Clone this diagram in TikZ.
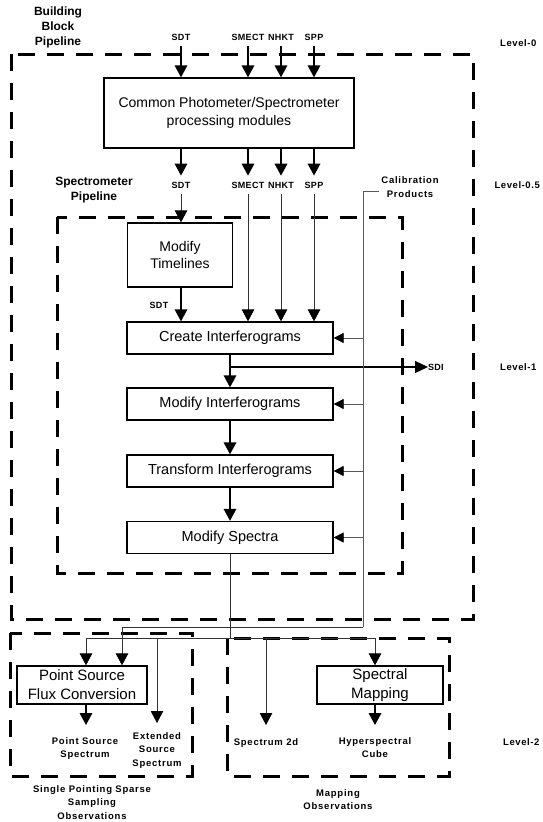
\documentclass[tikz,border=0pt]{standalone}
\usepackage{fontspec}
\setmainfont{Liberation Sans}
\usetikzlibrary{arrows.meta}
\begin{document}
\begin{tikzpicture}[x=1pt,y=-1pt,
  dbox/.style={draw, line width=3pt, dash pattern=on 17pt off 12pt},
  proc/.style={draw, line width=1.3pt, inner sep=0pt, align=center, font=\fontsize{14}{17.5}\selectfont},
  proc1/.style={proc, font=\fontsize{14.5}{17.5}\selectfont, minimum width=206pt, minimum height=32pt},
  io/.style={inner xsep=1pt, inner ysep=6pt, font=\bfseries\fontsize{9}{10.8}\selectfont\addfontfeature{LetterSpace=3}},
  lab/.style={inner sep=0pt, align=center, font=\bfseries\fontsize{9.5}{13.5}\selectfont\addfontfeature{LetterSpace=8}},
  lvl/.style={inner sep=0pt, font=\bfseries\fontsize{9.5}{11}\selectfont\addfontfeature{LetterSpace=6}},
  ttl/.style={inner sep=0pt, align=center, font=\bfseries\fontsize{12}{15}\selectfont},
  arr/.style={line width=1.8pt, -{Triangle[width=12.5pt,length=12pt]}},
  thinarr/.style={line width=1pt, draw=black!80, -{Triangle[width=12.5pt,length=12pt,color=black]}},
  thinline/.style={line width=0.9pt, draw=black!80},
  calline/.style={line width=0.8pt, draw=black!65},
  calarr/.style={calline, -{Triangle[width=10pt,length=10pt,color=black]}},
]
\useasboundingbox (0,0) rectangle (542,822);

% dashed containers
\draw[dbox] (11,54) rectangle (473,619);
\draw[dbox] (57,217) rectangle (402,573);
\draw[dbox] (10,633) rectangle (192,776);
\draw[dbox] (227,638) rectangle (449,776);

% titles
\node[ttl] (bbp) at (58,27) {Building\\Block\\Pipeline};
\node[ttl] (spp) at (94,190) {Spectrometer\\Pipeline};
\node[lvl, anchor=west] (l0) at (500,43) {Level-0};
\node[lvl, anchor=east] (l05) at (540,185) {Level-0.5};
\node[lvl, anchor=west] (l1) at (500,367) {Level-1};
\node[lvl, anchor=west] (l2) at (503,742) {Level-2};

% common box
\node[proc, minimum width=250pt, minimum height=70pt] (common) at (229,113) {Common Photometer/Spectrometer\\processing modules};

\node[io] (sdt0) at (181,37) {SDT};
\node[io] (smect0) at (248,37) {SMECT};
\node[io] (nhkt0) at (281,37) {NHKT};
\node[io] (spp0) at (314,37) {SPP};
\draw[arr] (sdt0) -- (sdt0 |- common.north);
\draw[arr] (smect0) -- (smect0 |- common.north);
\draw[arr] (nhkt0) -- (nhkt0 |- common.north);
\draw[arr] (spp0) -- (spp0 |- common.north);

\node[io] (sdt1) at (181,185) {SDT};
\node[io] (smect1) at (248,185) {SMECT};
\node[io] (nhkt1) at (281,185) {NHKT};
\node[io] (spp1) at (314,185) {SPP};
\draw[arr] (sdt0 |- common.south) -- (sdt1);
\draw[arr] (smect0 |- common.south) -- (smect1);
\draw[arr] (nhkt0 |- common.south) -- (nhkt1);
\draw[arr] (spp0 |- common.south) -- (spp1);

% spectrometer pipeline
\node[proc, minimum width=105pt, minimum height=64pt] (mt) at (180,255) {Modify\\Timelines};
\node[proc1] (create) at (230,338) {Create Interferograms};
\node[proc1] (mi) at (230,404) {Modify Interferograms};
\node[proc1] (ti) at (230,471) {Transform Interferograms};
\node[proc1] (ms) at (230,537.5) {Modify Spectra};

\draw[thinarr] (sdt1) -- (sdt1 |- mt.north);
\node[io] (sdt2) at (159,305) {SDT};
\draw[arr] (mt.south -| sdt1) -- (sdt1 |- create.north);
\draw[thinarr] (smect1) -- (smect1 |- create.north);
\draw[thinarr] (nhkt1) -- (nhkt1 |- create.north);
\draw[thinarr] (spp1) -- (spp1 |- create.north);

\draw[arr] (create) -- (mi);
\draw[arr] (mi) -- (ti);
\draw[arr] (ti) -- (ms);

\node[io, anchor=west, inner xsep=0pt] (sdi) at (428,367) {SDI};
\draw[line width=1.2pt, -{Triangle[width=12pt,length=13pt]}] (create.south |- sdi.west) -- (sdi.west);

% calibration
\node[lab] (cal) at (410,187) {Calibration\\Products};
\coordinate (calTick) at (379,191);
\coordinate (calT) at (363,191);
\coordinate (calB) at (363,627);
\coordinate (calL) at (122,627);
\draw[calline] (calTick) -- (calT) -- (calB);
\draw[thinline] (calB) -- (calL);
\draw[calarr] (calT |- create.east) -- (create.east);
\draw[calarr] (calT |- mi.east) -- (mi.east);
\draw[calarr] (calT |- ti.east) -- (ti.east);
\draw[calarr] (calT |- ms.east) -- (ms.east);

% level 2
\node[proc, font=\fontsize{15}{19}\selectfont, minimum width=130pt, minimum height=38pt] (ps) at (82,685) {Point Source\\Flux Conversion};
\node[proc, font=\fontsize{15}{19}\selectfont, minimum width=126pt, minimum height=38pt] (sm) at (380,685) {Spectral\\Mapping};

\coordinate (sL) at (86,638);
\coordinate (sR) at (375,638);
\draw[thinline] (ms.south) -- (ms.south |- sL);
\draw[thinline] (sL) -- (sR);

\node[lab, anchor=north, inner ysep=12pt] (psl) at (85,725) {Point Source\\Spectrum};
\node[lab, anchor=north, inner ysep=9pt] (ext) at (157,723) {Extended\\Source\\Spectrum};
\node[lab, anchor=north, inner ysep=13.2pt] (s2d) at (266,725) {Spectrum 2d};
\node[lab, anchor=north, inner ysep=12pt] (hyp) at (375,725) {Hyperspectral\\Cube};

\draw[thinarr] (sL) -- (sL |- ps.north);
\draw[thinarr] (calL) -- (calL |- ps.north);
\draw[thinarr] (sR) -- (sR |- sm.north);
\draw[thinarr] (ext.north |- sL) -- (ext.north);
\draw[thinarr] (s2d.north |- sL) -- (s2d.north);
\draw[arr] (ps.south -| sL) -- (psl.north -| sL);
\draw[arr] (sm.south -| sR) -- (hyp.north -| sR);

\node[lab] (spo) at (92,802.5) {Single Pointing Sparse\\Sampling\\Observations};
\node[lab] (mo) at (338,799.5) {Mapping\\Observations};
\end{tikzpicture}
\end{document}
